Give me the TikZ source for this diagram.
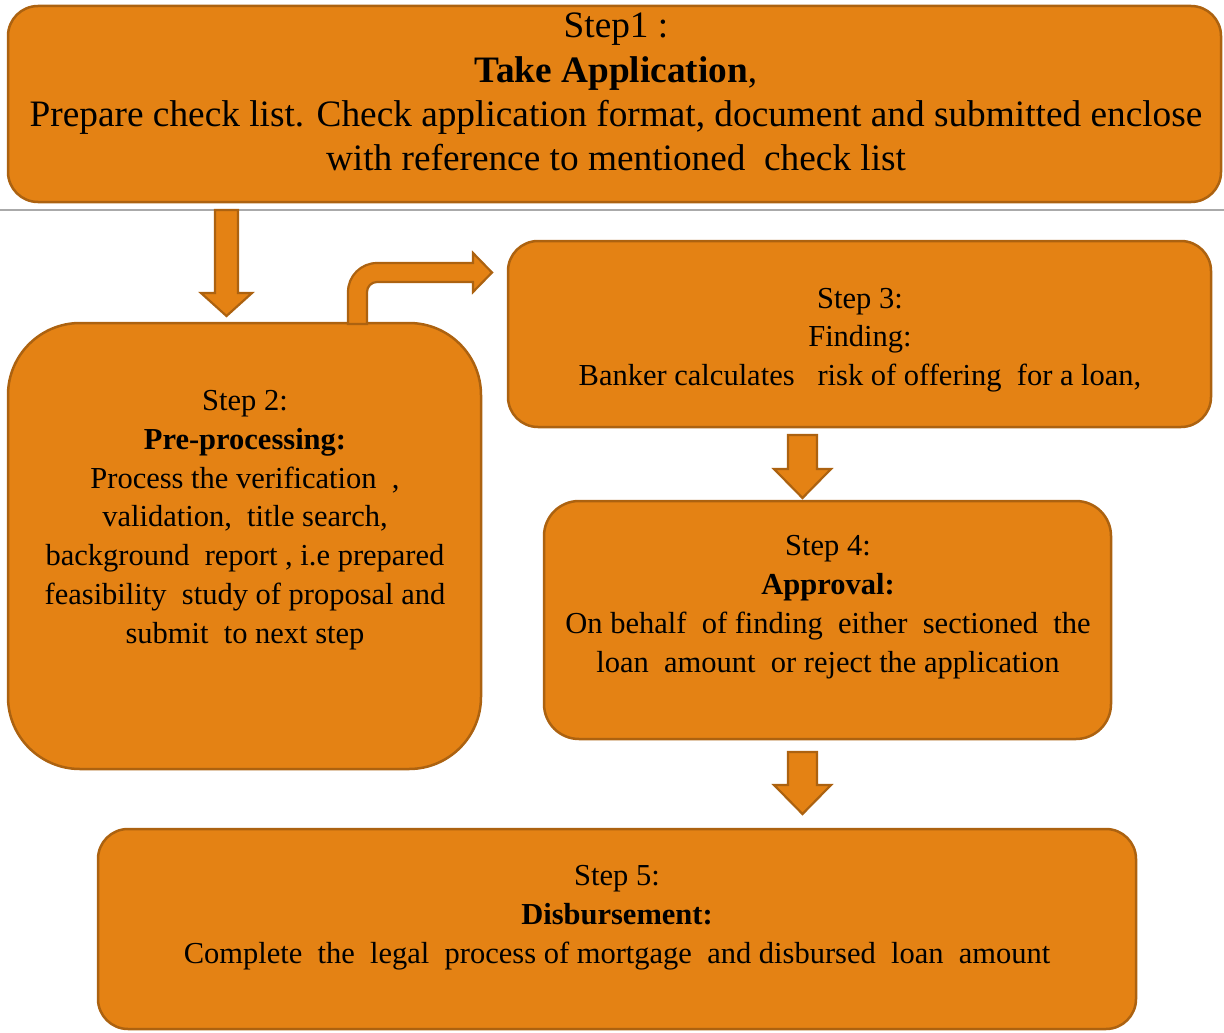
\documentclass[tikz,border=0pt]{standalone}
\usepackage{fontspec}
\setmainfont{Liberation Serif}
\definecolor{boxfill}{RGB}{228,130,20}
\definecolor{boxline}{RGB}{172,98,16}
\definecolor{rulegray}{RGB}{170,170,170}

\begin{document}
\begin{tikzpicture}[x=1pt,y=-1pt,line width=2.5pt,
  stepbox/.style={draw=boxline,fill=boxfill,rectangle,inner sep=0pt},
  steptext/.style={align=center,inner sep=0pt,font=\fontsize{30.5}{38.8}\selectfont},
  blockarrow/.style={draw=boxline,fill=boxfill,line width=2.2pt,line join=miter}]
\useasboundingbox (0,0) rectangle (1224,1033);
% ---------- Step 1 ----------
\node[stepbox,rounded corners=30pt,minimum width=1213pt,minimum height=196pt] (s1) at (614.5,104) {};
\node[steptext,font=\fontsize{37.3}{44.3}\selectfont] (t1) at (616,92) {Step1 :\\
  \textbf{Take Application},\\
  Prepare check list. Check application format, document and submitted enclose\\
  with reference to mentioned\ \ check list};
% separator
\draw[rulegray,line width=1.5pt] (0,210) -- (1224,210);
% ---------- Step 2 ----------
\node[stepbox,rounded corners=72pt,minimum width=473pt,minimum height=446pt] (s2) at (244.5,546) {};
\node[steptext] (t2) at (245,520) {Step 2:\\
  \textbf{Pre-processing:}\\
  Process the verification\ \ ,\\
  validation,\ \ title\ search,\\
  background\ \ report , i.e\ prepared\\
  feasibility\ \ study of proposal and\\
  submit\ \ to next\ step};
% ---------- Step 3 ----------
\node[stepbox,rounded corners=30pt,minimum width=703pt,minimum height=186pt] (s3) at (859.5,334) {};
\node[steptext] (t3) at (860,340) {Step 3:\\
  Finding:\\
  Banker calculates\ \ \ risk of offering\ \ for a loan,};
% ---------- Step 4 ----------
\node[stepbox,rounded corners=35pt,minimum width=567pt,minimum height=238pt] (s4) at (827.5,620) {};
\node[steptext] (t4) at (828,607) {Step 4:\\
  \textbf{Approval:}\\
  On behalf\ \ of finding\ \ either\ \ sectioned\ \ the\\
  loan\ \ amount\ \ or reject the application};
% ---------- Step 5 ----------
\node[stepbox,rounded corners=30pt,minimum width=1038pt,minimum height=200pt] (s5) at (617,929) {};
\node[steptext] (t5) at (617,917.5) {Step 5:\\
  \textbf{Disbursement:}\\
  Complete\ \ the\ \ legal\ \ process of\ mortgage\ \ and\ disbursed\ \ loan\ \ amount};
% ---------- down arrows ----------
\foreach \xl/\xr/\ytop/\yneck/\ytip in {215/238/210/293/316, 788/817/435/469/498, 788/817/752/785/814}
  \draw[blockarrow] (\xl,\ytop) -- (\xr,\ytop) -- (\xr,\yneck) -- (\xr+14,\yneck)
    -- ({(\xl+\xr)/2},\ytip) -- (\xl-14,\yneck) -- (\xl,\yneck) -- cycle;
% ---------- bent arrow step 2 -> step 3 ----------
\draw[blockarrow] (348,324) -- (348,292) .. controls (348,276) and (361,263) .. (377,263)
  -- (473,263) -- (473,253) -- (492,272.5) -- (473,292) -- (473,282) -- (377,282)
  .. controls (371.5,282) and (367,286.5) .. (367,292) -- (367,324) -- cycle;
\end{tikzpicture}
\end{document}
